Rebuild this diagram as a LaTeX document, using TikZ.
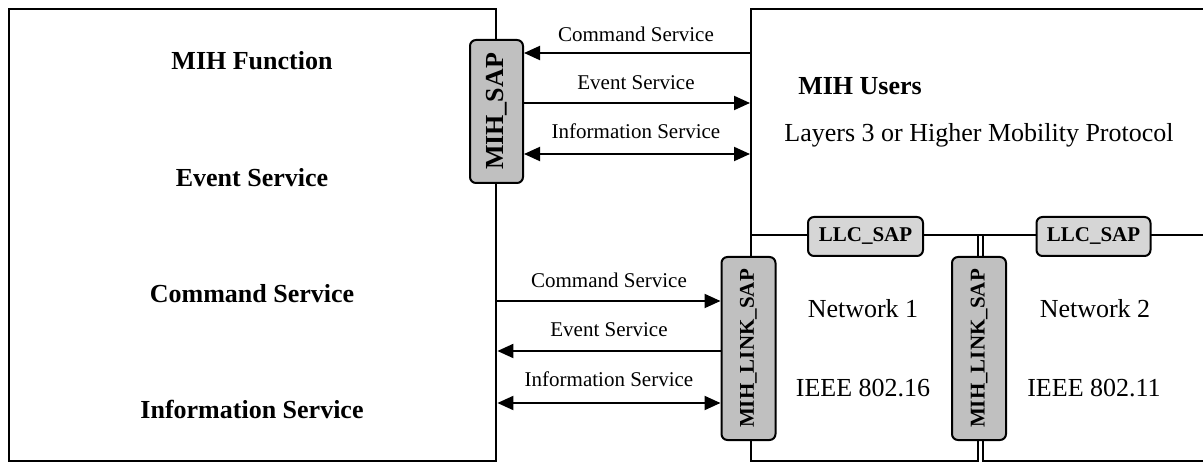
\documentclass[tikz,border=0pt]{standalone}
\usepackage{fontspec}
\setmainfont{Liberation Serif}
\usetikzlibrary{arrows.meta}
\definecolor{sapgray}{RGB}{192,192,192}
\definecolor{llcgray}{RGB}{214,214,214}
\begin{document}
\begin{tikzpicture}[x=1pt,y=-1pt,
  bigbox/.style={draw, line width=2.4pt, anchor=north west, inner sep=0pt},
  sapbox/.style={draw, line width=2pt, fill=sapgray, rounded corners=6pt, inner sep=0pt,
    font=\bfseries\fontsize{21}{24}\selectfont},
  llcbox/.style={sapbox, fill=llcgray},
  arr/.style={line width=2pt, -{Triangle[length=16pt,width=14pt]}},
  darr/.style={line width=2pt, {Triangle[length=16pt,width=14pt]}-{Triangle[length=16pt,width=14pt]}},
  bigtxt/.style={anchor=base, inner sep=0pt, font=\bfseries\fontsize{26}{30}\selectfont},
  regtxt/.style={anchor=base, inner sep=0pt, font=\fontsize{26}{30}\selectfont},
  arrtxt/.style={anchor=base, inner sep=0pt, font=\fontsize{21}{24}\selectfont}]
\useasboundingbox (0,0) rectangle (1203,462);
% big boxes
\node[bigbox, minimum width=487pt, minimum height=452pt] (mihf) at (8,8) {};
\node[bigbox, minimum width=465pt, minimum height=226pt] (users) at (750,8) {};
\node[bigbox, minimum width=227pt, minimum height=226pt] (net1) at (750,234) {};
\node[bigbox, minimum width=233pt, minimum height=226pt] (net2) at (982,234) {};
% left box texts
\node[bigtxt] (tf) at (252,70) {MIH Function};
\node[bigtxt] (tes) at (252,187) {Event Service};
\node[bigtxt] (tcs) at (252,303) {Command Service};
\node[bigtxt] (tis) at (252,418) {Information Service};
% right texts
\node[bigtxt] (tu) at (860,95) {MIH Users};
\node[regtxt] (tl) at (979,142) {Layers 3 or Higher Mobility Protocol};
\node[regtxt] (tn1) at (863,318) {Network 1};
\node[regtxt] (ti1) at (863,397) {IEEE 802.16};
\node[regtxt] (tn2) at (1095,318) {Network 2};
\node[regtxt] (ti2) at (1094,397) {IEEE 802.11};
% SAP boxes
\node[sapbox, rotate=90, minimum width=143pt, minimum height=53pt,
  font=\bfseries\fontsize{26}{30}\selectfont] (sap) at (496.5,111.5) {MIH\_SAP};
\node[sapbox, rotate=90, minimum width=183pt, minimum height=54pt] (link1) at (748.5,348.5) {MIH\_LINK\_SAP};
\node[sapbox, rotate=90, minimum width=183pt, minimum height=54pt] (link2) at (979,348.5) {MIH\_LINK\_SAP};
\node[llcbox, minimum width=115pt, minimum height=39pt] (llc1) at (865.5,236.5) {LLC\_SAP};
\node[llcbox, minimum width=114pt, minimum height=39pt] (llc2) at (1093.5,236.5) {LLC\_SAP};
% upper arrows
\draw[arr] (users.west |- 0,53) -- (sap.south |- 0,53);
\draw[arr] (sap.south |- 0,103) -- (users.west |- 0,103);
\draw[darr] (sap.south |- 0,154) -- (users.west |- 0,154);
\node[arrtxt] (l1) at (636,42) {Command Service};
\node[arrtxt] (l2) at (636,90) {Event Service};
\node[arrtxt] (l3) at (636,139) {Information Service};
% lower arrows
\draw[arr] (mihf.east |- 0,301) -- (link1.north |- 0,301);
\draw[arr] (link1.north |- 0,351) -- (mihf.east |- 0,351);
\draw[darr] (mihf.east |- 0,403) -- (link1.north |- 0,403);
\node[arrtxt] (l4) at (609,288) {Command Service};
\node[arrtxt] (l5) at (609,337) {Event Service};
\node[arrtxt] (l6) at (609,387) {Information Service};
\end{tikzpicture}
\end{document}
